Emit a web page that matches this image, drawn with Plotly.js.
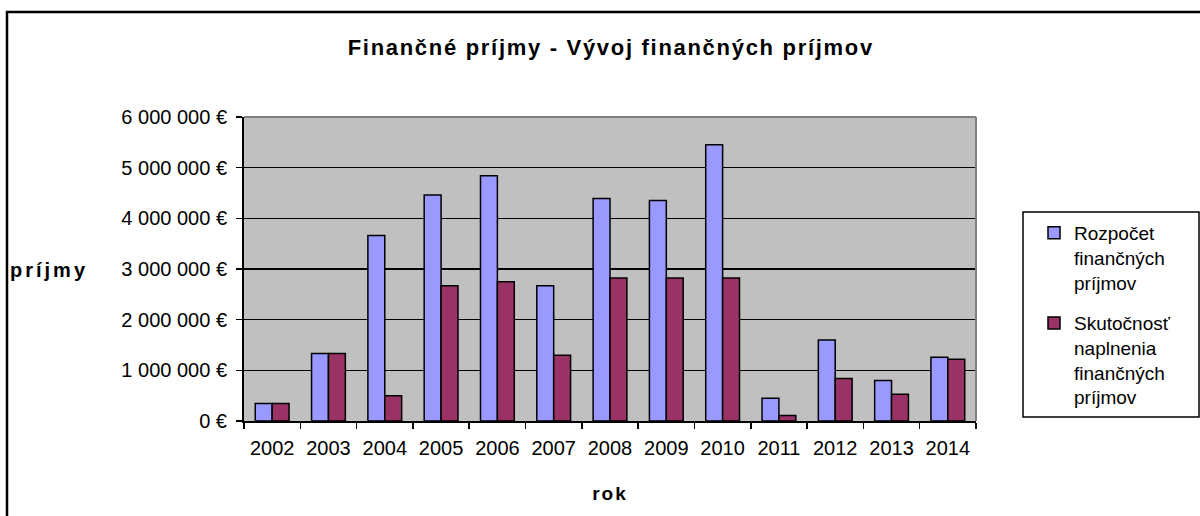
<!DOCTYPE html>
<html>
<head>
<meta charset="utf-8">
<script src="https://cdn.plot.ly/plotly-3.0.1.min.js"></script>
<style>
html, body { margin: 0; padding: 0; background: #fff; }
#chart { width: 1200px; height: 516px; }
.main-svg text.gtitle { letter-spacing: 1.7px; }
.main-svg .annotation-text { letter-spacing: 3px; }
.main-svg text.xtitle { letter-spacing: 2px; }
</style>
</head>
<body>
<div id="chart"></div>
<script>
const years = ['2002','2003','2004','2005','2006','2007','2008','2009','2010','2011','2012','2013','2014'];
const rozpocet = [345000, 1330000, 3660000, 4460000, 4840000, 2670000, 4390000, 4350000, 5450000, 450000, 1600000, 800000, 1260000];
const skutocnost = [345000, 1330000, 500000, 2670000, 2750000, 1300000, 2820000, 2820000, 2820000, 110000, 840000, 530000, 1220000];
const yTickVals = [0, 1000000, 2000000, 3000000, 4000000, 5000000, 6000000];
const yTickText = ['0 €', '1 000 000 €', '2 000 000 €', '3 000 000 €', '4 000 000 €', '5 000 000 €', '6 000 000 €'];
const seriesNames = ['Rozpočet<br>finančných<br>príjmov', 'Skutočnosť<br>naplnenia<br>finančných<br>príjmov'];
const chartTitle = 'Finančné príjmy - Vývoj finančných príjmov';
const xTitle = 'rok';
const yTitle = 'príjmy';

const FONT = 'Liberation Sans, Arial, sans-serif';

const traces = [
  {
    type: 'bar', name: seriesNames[0], x: years, y: rozpocet, legendgroup: 'a',
    marker: { color: '#9999FF', line: { color: '#000000', width: 1.5 } }
  },
  {
    type: 'bar', name: seriesNames[1], x: years, y: skutocnost, legendgroup: 'b',
    marker: { color: '#993366', line: { color: '#000000', width: 1.5 } }
  }
];

const W = 732, L = 244, T = 117, H = 304;
function px2x(p) { return (p - L) / W; }
function py2y(p) { return (T + H - p) / H; }

const layout = {
  width: 1200, height: 516,
  margin: { l: 244, r: 224, t: 117, b: 95 },
  paper_bgcolor: '#ffffff',
  plot_bgcolor: '#C0C0C0',
  font: { family: FONT, size: 20, color: '#000000' },
  title: {
    text: '<b>' + chartTitle + '</b>',
    font: { family: FONT, size: 22, color: '#000000' },
    x: 0.509, xanchor: 'center', y: 1 - 47 / 516, yanchor: 'middle', yref: 'container'
  },
  barmode: 'group',
  bargap: 0.40,
  bargroupgap: 0,
  showlegend: true,
  legend: {
    x: px2x(1034), xanchor: 'left',
    y: py2y(214), yanchor: 'top',
    bgcolor: 'rgba(0,0,0,0)',
    borderwidth: 0,
    font: { family: FONT, size: 19, color: '#000000' },
    valign: 'top',
    tracegroupgap: 13,
    itemwidth: 30
  },
  xaxis: {
    type: 'category',
    tickson: 'boundaries',
    ticks: 'outside', ticklen: 6, tickwidth: 1.5, tickcolor: '#000',
    showline: true, linecolor: '#000', linewidth: 2,
    showgrid: false, zeroline: false,
    tickfont: { family: FONT, size: 20, color: '#000' },
    ticklabelstandoff: 8,
    title: { text: '<b>' + xTitle + '</b>', font: { family: FONT, size: 19, color: '#000' }, standoff: 29 },
    fixedrange: true
  },
  yaxis: {
    range: [0, 6000000],
    tickvals: yTickVals, ticktext: yTickText,
    ticks: 'outside', ticklen: 6, tickwidth: 1.5, tickcolor: '#000',
    showline: true, linecolor: '#000', linewidth: 2,
    showgrid: true, gridcolor: '#000000', gridwidth: 1.5,
    zeroline: false,
    tickfont: { family: FONT, size: 20, color: '#000' },
    ticklabelstandoff: 5,
    fixedrange: true
  },
  annotations: [
    {
      text: '<b>' + yTitle + '</b>', xref: 'paper', yref: 'paper',
      x: px2x(17), xanchor: 'left', y: py2y(270), yanchor: 'middle',
      showarrow: false, font: { family: FONT, size: 20, color: '#000' }
    }
  ],
  shapes: [
    { type: 'line', xref: 'paper', yref: 'paper', x0: 0, x1: 1, y0: 1, y1: 1, layer: 'above', line: { color: '#808080', width: 2 } },
    { type: 'line', xref: 'paper', yref: 'paper', x0: 1, x1: 1, y0: 0, y1: 1, layer: 'above', line: { color: '#808080', width: 2 } },
    { type: 'rect', xref: 'paper', yref: 'paper', x0: px2x(1023), x1: px2x(1199), y0: py2y(417), y1: py2y(212), layer: 'above', line: { color: '#000', width: 1.5 } },
    { type: 'rect', xref: 'paper', yref: 'paper', x0: px2x(7), x1: px2x(1210), y0: py2y(530), y1: py2y(12), layer: 'above', line: { color: '#000', width: 2.5 } }
  ]
};

Plotly.newPlot('chart', traces, layout, { displayModeBar: false, staticPlot: true });
</script>
</body>
</html>
